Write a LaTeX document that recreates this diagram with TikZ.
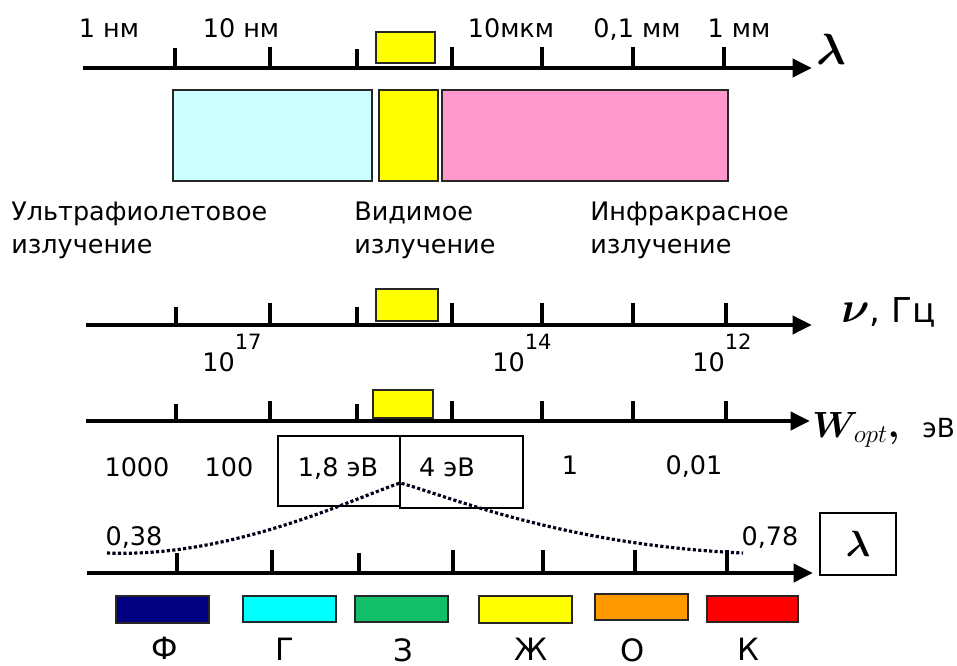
\documentclass[tikz,border=0pt]{standalone}
\usepackage{fontspec}
\usepackage{amsmath}
\setmainfont{DejaVu Sans}
\usetikzlibrary{arrows.meta}
\definecolor{uvcol}{HTML}{CCFFFF}
\definecolor{ircol}{HTML}{FF99CC}
\definecolor{fcol}{HTML}{000080}
\definecolor{gcol}{HTML}{00FFFF}
\definecolor{zcol}{HTML}{13BE6A}
\definecolor{ycol}{HTML}{FFFF00}
\definecolor{ocol}{HTML}{FF9900}
\definecolor{kcol}{HTML}{FF0000}
\tikzset{
  axis/.style={line width=2.8pt, -{Triangle[length=11pt,width=10pt]}},
  tickmark/.style={line width=2.3pt},
  band/.style={draw=black!85, line width=0.9pt},
  ebox/.style={draw, line width=0.8pt},
  lbl/.style={inner sep=0pt, font=\fontsize{14.5}{18.7}\selectfont},
  letter/.style={inner sep=0pt, anchor=north, font=\fontsize{17.5}{17.5}\selectfont},
  curve/.style={line width=1.8pt, dash pattern=on 1.8pt off 1.3pt, color=black!90!blue},
}
\begin{document}
\begin{tikzpicture}[x=0.02cm, y=-0.02cm]
\useasboundingbox (0,0) rectangle (957,666);

\coordinate (a1s) at (83,68);
\coordinate (a1e) at (812,68);
\coordinate (a2s) at (86,325);
\coordinate (a2e) at (812,325);
\coordinate (a3s) at (86,421);
\coordinate (a3e) at (810,421);
\coordinate (a4s) at (87,573);
\coordinate (a4e) at (813,573);

\draw[band, fill=ycol] (376,32) rectangle (435,63);
\draw[band, fill=ycol] (376,289) rectangle (438,321);
\draw[band, fill=ycol] (373,390) rectangle (433,418);

\draw[axis] (a1s) -- (a1e);
\draw[axis] (a2s) -- (a2e);
\draw[axis] (a3s) -- (a3e);
\draw[axis] (a4s) -- (a4e);

\foreach \x/\yt in {175/48,270/47,357/49,452/47,542/47,633/47,724/47}
  \draw[tickmark] (\x,68) -- (\x,\yt);
\foreach \x/\yt in {176/307,270/303,357/307,452/303,542/303,633/303,726/303}
  \draw[tickmark] (\x,325) -- (\x,\yt);
\foreach \x/\yt in {176/404,270/401,357/404,452/401,542/401,633/401,726/401}
  \draw[tickmark] (\x,421) -- (\x,\yt);
\foreach \x/\yt in {177/553,272/550,359/553,453/550,543/550,635/550,727/550}
  \draw[tickmark] (\x,573) -- (\x,\yt);

\node[lbl, anchor=base] (nm1) at (109,37) {1 нм};
\node[lbl, anchor=base] (nm10) at (241,37) {10 нм};
\node[lbl, anchor=base] (mkm10) at (511,37) {10мкм};
\node[lbl, anchor=base] (mm01) at (637,37) {0,1 мм};
\node[lbl, anchor=base] (mm1) at (739,37) {1 мм};
\node[inner sep=0pt, font=\fontsize{23}{23}\selectfont] (lam) at (831,49) {$\boldsymbol{\lambda}$};

\draw[band, fill=uvcol] (173,90) rectangle (372,181);
\draw[band, fill=ycol] (379,90) rectangle (438,181);
\draw[band, fill=ircol] (442,90) rectangle (728,181);

\node[lbl, anchor=north west, align=left] (uv) at (11,202) {Ультрафиолетовое\\излучение};
\node[lbl, anchor=north west, align=left] (vis) at (354,202) {Видимое\\излучение};
\node[lbl, anchor=north west, align=left] (ir) at (590,202) {Инфракрасное\\излучение};

\node[lbl, anchor=base west] (f17) at (202,371) {10\raisebox{12pt}{\fontsize{12}{12}\selectfont 17}};
\node[lbl, anchor=base west] (f14) at (492,371) {10\raisebox{12pt}{\fontsize{12}{12}\selectfont 14}};
\node[lbl, anchor=base west] (f12) at (692,371) {10\raisebox{12pt}{\fontsize{12}{12}\selectfont 12}};
\node[inner sep=0pt, anchor=base west] (nu) at (841,322) {{\fontsize{30}{30}\selectfont$\boldsymbol{\nu}$}{\fontsize{19.5}{19.5}\selectfont, Гц}};

\node[inner sep=0pt, anchor=base west] (wopt) at (812,437) {{\fontsize{21}{21}\selectfont$\boldsymbol{W}_{\!opt}\boldsymbol{,}$}\hspace{13pt}{\fontsize{15}{15}\selectfont эВ}};

\draw[ebox] (278,436) rectangle (400,506);
\draw[ebox] (400,436) rectangle (523,508);
\node[lbl, anchor=base] (e1000) at (137,476) {1000};
\node[lbl, anchor=base] (e100) at (229,476) {100};
\node[lbl, anchor=base] (e18) at (338,476) {1,8 эВ};
\node[lbl, anchor=base] (e4) at (447,476) {4 эВ};
\node[lbl, anchor=base] (e1) at (570,474) {1};
\node[lbl, anchor=base] (e001) at (694,474) {0,01};

\coordinate (c0) at (107,553);
\coordinate (cpk) at (400,483);
\coordinate (c1) at (743,553);
\draw[curve] (c0) .. controls (230,558) and (350,500) .. (cpk)
  .. controls (440,493) and (560,545) .. (c1);
\node[lbl, anchor=base] (w038) at (134,545) {0,38};
\node[lbl, anchor=base] (w078) at (770,545) {0,78};
\node[draw, line width=0.9pt, minimum width=43pt, minimum height=35pt, inner sep=0pt, font=\fontsize{20}{20}\selectfont] (lbox) at (858,544) {$\boldsymbol{\lambda}$};

\draw[band, fill=fcol] (116,596) rectangle (209,623);
\draw[band, fill=gcol] (243,596) rectangle (336,622);
\draw[band, fill=zcol] (355,596) rectangle (448,622);
\draw[band, fill=ycol] (479,596) rectangle (572,623);
\draw[band, fill=ocol] (595,594) rectangle (688,620);
\draw[band, fill=kcol] (707,596) rectangle (798,622);

\node[letter] (cf) at (165,637) {Ф};
\node[letter] (cg) at (285,638) {Г};
\node[letter] (cz) at (403,638) {З};
\node[letter] (czh) at (531,638) {Ж};
\node[letter] (co) at (633,638) {О};
\node[letter] (ck) at (748,638) {К};
\end{tikzpicture}
\end{document}
